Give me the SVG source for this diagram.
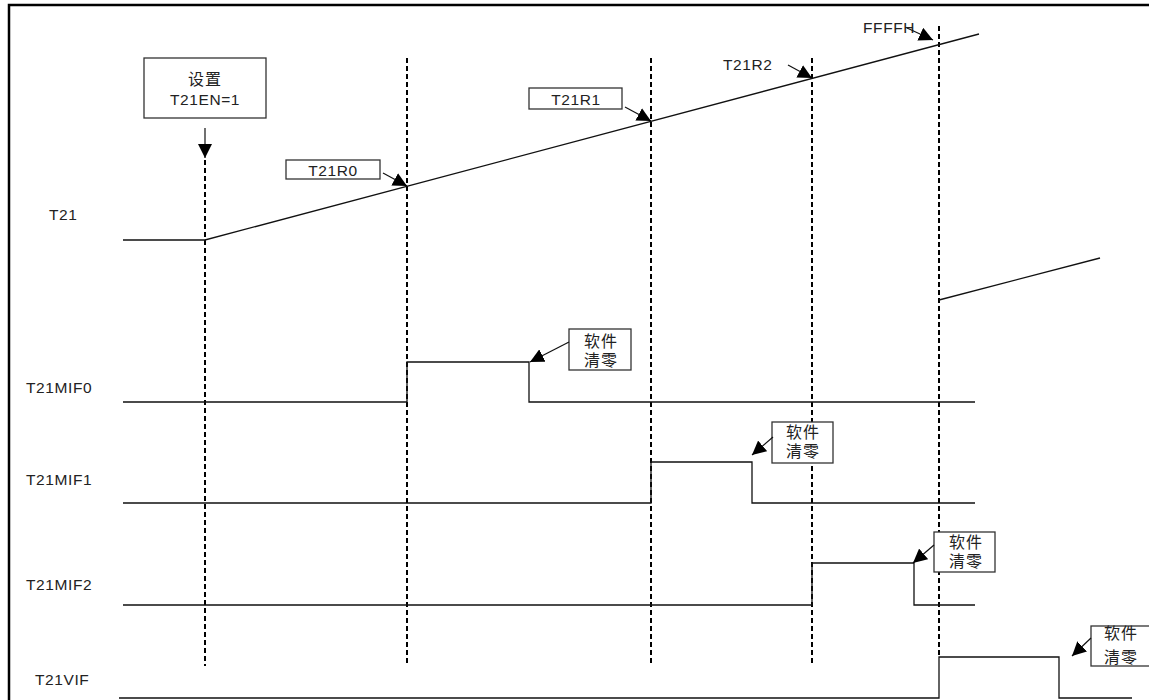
<svg xmlns="http://www.w3.org/2000/svg" width="1149" height="700" viewBox="0 0 1149 700">
<style>
.frame{stroke:#000;stroke-width:2.5;fill:none}
.dash{stroke:#000;stroke-width:2;stroke-dasharray:5,3;fill:none}
.sig{stroke:#111;stroke-width:1.3;fill:none}
.box{fill:#fff;stroke:#333;stroke-width:1.3}
.arr{stroke:#111;stroke-width:1.2;fill:none;marker-end:url(#ah)}
text{font-family:"Liberation Sans","Noto Sans CJK SC",sans-serif;font-size:15.5px;fill:#222;letter-spacing:0.6px}
.cjk{font-size:16px;letter-spacing:1px}
.c{text-anchor:middle}
</style>
<defs>
<marker id="ah" markerUnits="userSpaceOnUse" markerWidth="15" markerHeight="14" refX="14" refY="7" orient="auto">
<path d="M0,0 L14,7 L0,14 z" fill="#000"/>
</marker>
</defs>
<rect width="1149" height="700" fill="#fff"/>
<path class="frame" d="M9,700 L9,5 L1149,5"/>

<g id="guides">
<line class="dash" x1="205" y1="160" x2="205" y2="666"/>
<line class="dash" x1="407" y1="58" x2="407" y2="666"/>
<line class="dash" x1="651" y1="58" x2="651" y2="666"/>
<line class="dash" x1="812" y1="58" x2="812" y2="666"/>
<line class="dash" x1="939" y1="26" x2="939" y2="657"/>
</g>

<g id="labels">
<text x="49" y="220">T21</text>
<text x="26" y="393">T21MIF0</text>
<text x="26" y="485">T21MIF1</text>
<text x="26" y="590">T21MIF2</text>
<text x="35" y="685">T21VIF</text>
</g>

<g id="signals">
<polyline class="sig" points="123,240 205,240 979,34"/>
<line class="sig" x1="939" y1="300" x2="1100" y2="258"/>
<polyline class="sig" points="123,402 407,402 407,362 529,362 529,402 975,402"/>
<polyline class="sig" points="123,503 651,503 651,462 752,462 752,503 975,503"/>
<polyline class="sig" points="123,605 812,605 812,563 914,563 914,605 975,605"/>
<polyline class="sig" points="119,698 939,698 939,657 1059,657 1059,698 1132,698"/>
</g>

<g id="node-set">
<rect class="box" x="144" y="58" width="122" height="60"/>
<text class="c cjk" x="205" y="85">设置</text>
<text class="c" x="205" y="105">T21EN=1</text>
</g>
<g id="node-r0">
<rect class="box" x="286" y="160" width="94" height="19"/>
<text class="c" x="333" y="176">T21R0</text>
</g>
<g id="node-r1">
<rect class="box" x="529" y="88" width="93" height="21"/>
<text class="c" x="576" y="105">T21R1</text>
</g>
<g id="node-r2">
<text x="723" y="70">T21R2</text>
</g>
<g id="node-ffff">
<text x="863" y="33">FFFFH</text>
</g>
<g id="node-clr0">
<rect class="box" x="569" y="329" width="62" height="41"/>
<text class="c cjk" x="601" y="347">软件</text>
<text class="c cjk" x="601" y="366">清零</text>
</g>
<g id="node-clr1">
<rect class="box" x="772" y="422" width="61" height="41"/>
<text class="c cjk" x="803" y="438">软件</text>
<text class="c cjk" x="803" y="457">清零</text>
</g>
<g id="node-clr2">
<rect class="box" x="934" y="532" width="61" height="40"/>
<text class="c cjk" x="966" y="548">软件</text>
<text class="c cjk" x="966" y="567">清零</text>
</g>
<g id="node-clrv">
<rect class="box" x="1091" y="626" width="60" height="40"/>
<text class="c cjk" x="1121" y="639">软件</text>
<text class="c cjk" x="1121" y="663">清零</text>
</g>

<g id="connectors">
<line class="arr" x1="205" y1="128" x2="205" y2="158"/>
<line class="arr" x1="383" y1="173" x2="407" y2="186"/>
<line class="arr" x1="625" y1="107" x2="651" y2="121"/>
<line class="arr" x1="788" y1="65" x2="812" y2="78"/>
<line class="arr" x1="907" y1="28" x2="933" y2="40"/>
<line class="arr" x1="569" y1="342" x2="530" y2="362"/>
<line class="arr" x1="773" y1="437" x2="752" y2="455"/>
<line class="arr" x1="934" y1="545" x2="913" y2="563"/>
<line class="arr" x1="1091" y1="638" x2="1072" y2="656"/>
</g>
</svg>
